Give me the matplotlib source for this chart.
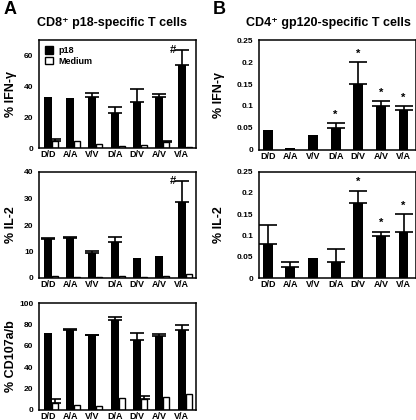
import matplotlib
matplotlib.use("Agg")
import matplotlib.pyplot as plt
from matplotlib.patches import Patch
import numpy as np

plt.rcParams['font.family'] = ['Liberation Sans', 'DejaVu Sans']
plt.rcParams['font.weight'] = 'bold'

groups = ["D/D", "A/A", "V/V", "D/A", "D/V", "A/V", "V/A"]

# Panel A: CD8+ p18-specific T cells (p18 vs Medium)
ifn_p18 = [33.0, 32.2, 33.3, 22.4, 30.0, 33.3, 54.0]
ifn_p18_err = [0.0, 0.0, 2.6, 4.3, 8.0, 1.5, 9.3]
ifn_med = [4.3, 4.3, 2.6, 1.0, 2.2, 3.9, 0.6]
ifn_med_err = [1.4, 0.0, 0.0, 0.0, 0.0, 0.9, 0.0]

il2_p18 = [14.7, 15.2, 9.3, 13.7, 7.7, 8.3, 28.5]
il2_p18_err = [0.5, 0.3, 0.8, 1.8, 0.0, 0.0, 8.2]
il2_med = [0.8, 0.3, 0.3, 0.6, 0.3, 0.6, 1.5]
il2_med_err = [0.0, 0.0, 0.0, 0.0, 0.0, 0.0, 0.0]

cd107_p18 = [72.0, 74.5, 70.0, 84.5, 65.0, 69.3, 75.0]
cd107_p18_err = [0.0, 1.5, 0.5, 2.1, 6.7, 1.7, 4.0]
cd107_med = [7.0, 5.0, 4.0, 11.0, 10.5, 12.0, 14.6]
cd107_med_err = [3.0, 0.0, 0.0, 0.0, 2.5, 0.0, 0.0]

# Panel B: CD4+ gp120-specific T cells
b_ifn = [0.046, 0.005, 0.034, 0.051, 0.150, 0.101, 0.091]
b_ifn_err = [0.0, 0.0, 0.0, 0.010, 0.050, 0.010, 0.009]
b_ifn_star = [False, False, False, True, True, True, True]

b_il2 = [0.081, 0.027, 0.048, 0.039, 0.176, 0.099, 0.109]
b_il2_err = [0.044, 0.010, 0.0, 0.030, 0.029, 0.010, 0.041]
b_il2_star = [False, False, False, False, True, True, True]

W, H = 416, 420
fig = plt.figure(figsize=(W / 100, H / 100), dpi=100)

def ax_px(left, top, right, bottom):
    return fig.add_axes([left / W, 1 - bottom / H, (right - left) / W, (bottom - top) / H])

x = np.arange(len(groups))

def style(ax, ylim, yticks, yticklabels, ylabel, xlim):
    ax.set_ylim(*ylim)
    ax.set_xlim(*xlim)
    ax.set_yticks(yticks)
    ax.set_yticklabels(yticklabels, fontsize=6, fontweight='bold')
    ax.set_xticks(x)
    ax.set_xticklabels(groups, fontsize=6.5, fontweight='bold')
    ax.tick_params(axis='both', length=0)
    ax.tick_params(axis='x', pad=1.5)
    ax.tick_params(axis='y', pad=4)
    for s in ax.spines.values():
        s.set_linewidth(1.1)
    ax.set_ylabel(ylabel, fontsize=9, fontweight='bold')

def errbars(ax, xs, vals, errs, capsize):
    xs = np.asarray(xs, float)
    vals = np.asarray(vals, float)
    errs = np.asarray(errs, float)
    m = errs > 0
    if m.any():
        ax.errorbar(xs[m], vals[m], yerr=[np.zeros(m.sum()), errs[m]], ecolor='black',
                    elinewidth=1.2, capthick=1.2, capsize=capsize, fmt='none', zorder=3)

def panel_a(ax, p18, p18e, med, mede, ylim, yticks, ylabel, hash_idx=None, legend=False):
    bw, ww = 0.36, 0.27
    off = (bw + ww) / 2
    ax.bar(x, p18, width=bw, color='black', zorder=2)
    ax.bar(x + off, med, width=ww, color='white', edgecolor='black', linewidth=1.0, zorder=2)
    errbars(ax, x, p18, p18e, 5)
    errbars(ax, x + off, med, mede, 4.5)
    style(ax, ylim, yticks, [str(t) for t in yticks], ylabel, (-0.39, 6.64))
    if hash_idx is not None:
        top = p18[hash_idx] + p18e[hash_idx]
        ax.text(hash_idx - 0.4, top, '#', ha='center', va='center', fontsize=8, fontweight='bold')
    if legend:
        handles = [Patch(facecolor='black', edgecolor='black'),
                   Patch(facecolor='white', edgecolor='black', linewidth=1.0)]
        ax.legend(handles, ['p18', 'Medium'], loc='upper left', frameon=False,
                  handlelength=0.9, handleheight=0.9, handletextpad=0.5,
                  labelspacing=0.15, borderaxespad=0.3, prop={'weight': 'bold', 'size': 6.5})

def panel_b(ax, vals, errs, stars, ylabel):
    bw = 0.44
    ax.bar(x, vals, width=bw, color='black', zorder=2)
    errbars(ax, x, vals, errs, 6.5)
    yt = [0, 0.05, 0.1, 0.15, 0.2, 0.25]
    style(ax, (0, 0.25), yt, ['0', '0.05', '0.1', '0.15', '0.2', '0.25'], ylabel, (-0.39, 6.53))
    for i, s in enumerate(stars):
        if s:
            ax.text(i, vals[i] + errs[i] + 0.008, '*', ha='center', va='bottom',
                    fontsize=8, fontweight='bold')

a1 = ax_px(39, 40, 196, 148)
panel_a(a1, ifn_p18, ifn_p18_err, ifn_med, ifn_med_err, (0, 70), [0, 20, 40, 60],
        '% IFN-γ', hash_idx=6, legend=True)
a2 = ax_px(39, 172, 196, 278)
panel_a(a2, il2_p18, il2_p18_err, il2_med, il2_med_err, (0, 40), [0, 10, 20, 30, 40],
        '% IL-2', hash_idx=6)
a3 = ax_px(39, 303, 196, 410)
panel_a(a3, cd107_p18, cd107_p18_err, cd107_med, cd107_med_err, (0, 100),
        [0, 20, 40, 60, 80, 100], '% CD107a/b')

b1 = ax_px(259, 40, 415.5, 150)
panel_b(b1, b_ifn, b_ifn_err, b_ifn_star, '% IFN-γ')
b2 = ax_px(259, 171.5, 415.5, 278.3)
panel_b(b2, b_il2, b_il2_err, b_il2_star, '% IL-2')

for a in (a1, a2, a3):
    a.yaxis.set_label_coords(-22 / 157, 0.5)
for b in (b1, b2):
    b.yaxis.set_label_coords(-34 / 156.5, 0.5)

fig.text(10 / W, 1 - 9 / H, 'A', fontsize=13, fontweight='bold', ha='center', va='center')
fig.text(219 / W, 1 - 9 / H, 'B', fontsize=13, fontweight='bold', ha='center', va='center')
fig.text(112 / W, 1 - 23 / H, 'CD8⁺ p18-specific T cells', fontsize=9, fontweight='bold',
         ha='center', va='center')
fig.text(328 / W, 1 - 23 / H, 'CD4⁺ gp120-specific T cells', fontsize=9, fontweight='bold',
         ha='center', va='center')

fig.savefig('out.png', dpi=100)
